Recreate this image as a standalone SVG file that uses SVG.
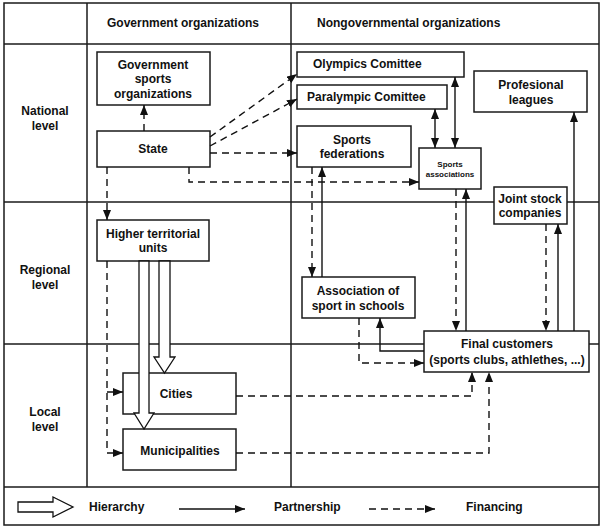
<svg xmlns="http://www.w3.org/2000/svg" width="605" height="531" viewBox="0 0 605 531">
<style>
.grid{fill:none;stroke:#1a1a1a;stroke-width:1.5}
.box{fill:#fff;stroke:#1a1a1a;stroke-width:1.5}
.t{font-family:"Liberation Sans",Arial,sans-serif;font-weight:bold;font-size:12px;fill:#111;text-anchor:middle}
.ts{font-size:8px}
.st{text-anchor:start}
.fin{fill:none;stroke:#111;stroke-width:1.4;stroke-dasharray:7 5;marker-end:url(#ah)}
.par{fill:none;stroke:#111;stroke-width:1.4;marker-end:url(#ah)}
.dbl{marker-start:url(#ah)}
.hier{fill:#fff;stroke:#111;stroke-width:1.3}
</style>
<defs>
<marker id="ah" markerUnits="userSpaceOnUse" markerWidth="10" markerHeight="8" refX="10" refY="4" orient="auto-start-reverse">
<path d="M0,0 L10,4 L0,8 z" fill="#111"/>
</marker>
</defs>
<rect width="605" height="531" fill="#fff"/>
<g id="grid">
<rect class="grid" x="4" y="3" width="595" height="522"/>
<line class="grid" x1="87" y1="3" x2="87" y2="487"/>
<line class="grid" x1="291" y1="3" x2="291" y2="487"/>
<line class="grid" x1="4" y1="44" x2="599" y2="44"/>
<line class="grid" x1="4" y1="202" x2="599" y2="202"/>
<line class="grid" x1="4" y1="344" x2="599" y2="344"/>
<line class="grid" x1="4" y1="487" x2="599" y2="487"/>
<text class="t" x="183" y="27">Government organizations</text>
<text class="t st" x="317" y="27">Nongovernmental organizations</text>
<text class="t" x="45" y="115">National</text>
<text class="t" x="45" y="130">level</text>
<text class="t" x="45" y="274">Regional</text>
<text class="t" x="45" y="289">level</text>
<text class="t" x="45" y="416">Local</text>
<text class="t" x="45" y="431">level</text>
</g>
<g id="nodes">
<g id="gov-sports">
<rect class="box" x="97" y="52" width="113" height="53"/>
<text class="t" x="153" y="69">Government</text>
<text class="t" x="153" y="83">sports</text>
<text class="t" x="153" y="98">organizations</text>
</g>
<g id="state">
<rect class="box" x="97" y="131" width="113" height="36"/>
<text class="t" x="153" y="153">State</text>
</g>
<g id="olympics">
<rect class="box" x="297" y="52" width="167" height="25"/>
<text class="t st" x="313" y="68">Olympics Comittee</text>
</g>
<g id="paralympic">
<rect class="box" x="297" y="85" width="150" height="24"/>
<text class="t st" x="307" y="101">Paralympic Comittee</text>
</g>
<g id="sports-federations">
<rect class="box" x="297" y="126" width="114" height="41"/>
<text class="t" x="352" y="144">Sports</text>
<text class="t" x="352" y="158">federations</text>
</g>
<g id="sports-associations">
<rect class="box" x="419" y="148" width="62" height="41"/>
<text class="t ts" x="450" y="167">Sports</text>
<text class="t ts" x="450" y="177">associations</text>
</g>
<g id="professional-leagues">
<rect class="box" x="474" y="71" width="113" height="41"/>
<text class="t" x="531" y="89">Profesional</text>
<text class="t" x="531" y="104">leagues</text>
</g>
<g id="joint-stock">
<rect class="box" x="494" y="187" width="73" height="37"/>
<text class="t" x="530" y="203">Joint stock</text>
<text class="t" x="530" y="217">companies</text>
</g>
<g id="higher-territorial">
<rect class="box" x="97" y="220" width="112" height="41"/>
<text class="t" x="153" y="238">Higher territorial</text>
<text class="t" x="153" y="252">units</text>
</g>
<g id="school-sport">
<rect class="box" x="302" y="277" width="113" height="41"/>
<text class="t" x="358" y="295">Association of</text>
<text class="t" x="358" y="310">sport in schools</text>
</g>
<g id="final-customers">
<rect class="box" x="424" y="331" width="165" height="41"/>
<text class="t" x="507" y="348">Final customers</text>
<text class="t" x="507" y="364">(sports clubs, athlethes, ...)</text>
</g>
<g id="cities">
<rect class="box" x="123" y="373" width="113" height="41"/>
<text class="t" x="176" y="398">Cities</text>
</g>
<g id="municipalities">
<rect class="box" x="123" y="429" width="113" height="41"/>
<text class="t" x="180" y="455">Municipalities</text>
</g>
</g>
<g id="connectors">
<path class="fin" d="M144,131 L144,105"/>
<path class="fin" d="M210,137 L297,74"/>
<path class="fin" d="M210,146 L297,99"/>
<path class="fin" d="M210,153 L297,153"/>
<path class="fin" d="M189,167 L189,182 L419,182"/>
<path class="fin" d="M107,167 L107,220"/>
<path class="fin" d="M107,261 L107,453 L123,453"/>
<path class="fin" d="M107,392 L123,392"/>
<path class="fin" d="M312,167 L312,277"/>
<path class="fin" d="M456,189 L456,331"/>
<path class="fin" d="M546,224 L546,331"/>
<path class="fin" d="M359,318 L359,363 L424,363"/>
<path class="fin" d="M236,396 L472,396 L472,372"/>
<path class="fin" d="M236,453 L489,453 L489,372"/>
<path class="par" d="M322,277 L322,167"/>
<path class="par dbl" d="M435,109 L435,148"/>
<path class="par dbl" d="M455,77 L455,148"/>
<path class="par" d="M466,331 L466,189"/>
<path class="par" d="M558,331 L558,224"/>
<path class="par" d="M574,331 L574,112"/>
<path class="par" d="M424,351 L380,351 L380,318"/>
<polygon class="hier" points="159,261 170,261 170,357 175,357 164.5,373 154,357 159,357"/>
<polygon class="hier" points="139,261 149,261 149,413 154,413 144,429 134,413 139,413"/>
</g>
<g id="legend">
<polygon class="hier" points="18,502 53,502 53,497 73,507 53,517 53,512 18,512"/>
<text class="t st" x="89" y="511">Hierarchy</text>
<path class="par" d="M179,509 L245,509"/>
<text class="t st" x="274" y="511">Partnership</text>
<path class="fin" d="M369,509 L435,509"/>
<text class="t st" x="466" y="511">Financing</text>
</g>
</svg>
